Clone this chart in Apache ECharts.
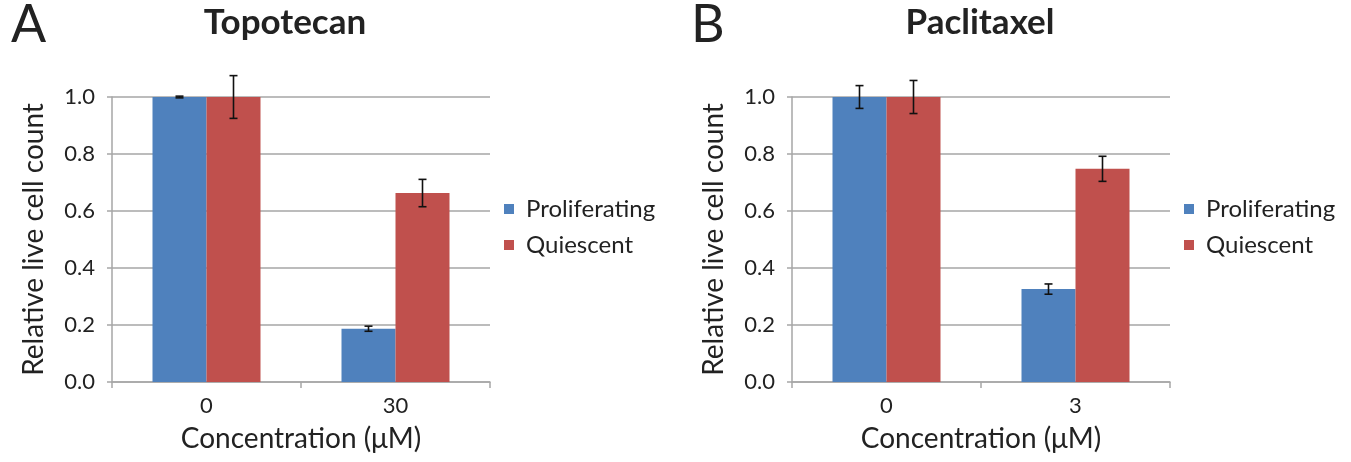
<!DOCTYPE html>
<html><head><meta charset="utf-8">
<script src="https://cdn.jsdelivr.net/npm/echarts@6/dist/echarts.min.js"></script>
<style>html,body{margin:0;padding:0;background:#fff}#c{width:1351px;height:462px}</style>
</head><body><div id="c"></div>
<script>
const FONT = 'Lato';
const seriesNames = ['Proliferating', 'Quiescent'];
const colors = ['#4F81BD', '#C0504D'];

const topoCategories = ['0', '30'];
const topoProlif = [1.0, 0.187];
const topoProlifErr = [0.003, 0.009];
const topoQuies = [1.0, 0.663];
const topoQuiesErr = [0.075, 0.048];

const pacliCategories = ['0', '3'];
const pacliProlif = [1.0, 0.326];
const pacliProlifErr = [0.04, 0.018];
const pacliQuies = [1.0, 0.748];
const pacliQuiesErr = [0.058, 0.044];

const yTicks = [0, 0.2, 0.4, 0.6, 0.8, 1.0];

const chart = echarts.init(document.getElementById('c'));
const gray = '#a6a6a6';
const BW = 54;

function errSeries(gi, vals, errs, shift) {
  return {
    type: 'custom', xAxisIndex: gi, yAxisIndex: gi, clip: false, silent: true, z: 5,
    data: vals.map((v, i) => [i, v, errs[i]]),
    encode: { x: 0, y: 1 },
    renderItem: function (params, api) {
      const i = api.value(0), v = api.value(1), e = api.value(2);
      const top = api.coord([i, v + e]);
      const bot = api.coord([i, v - e]);
      const x = top[0] + shift;
      const cap = 4;
      const st = { stroke: '#111', lineWidth: 1.6 };
      return { type: 'group', children: [
        { type: 'line', shape: { x1: x, y1: top[1], x2: x, y2: bot[1] }, style: st },
        { type: 'line', shape: { x1: x - cap, y1: top[1], x2: x + cap, y2: top[1] }, style: st },
        { type: 'line', shape: { x1: x - cap, y1: bot[1], x2: x + cap, y2: bot[1] }, style: st }
      ]};
    }
  };
}

function xAxis(gi, cats) {
  return {
    type: 'category', gridIndex: gi, data: cats,
    axisLine: { lineStyle: { color: gray, width: 1.5 } },
    axisTick: { show: true, length: 6, lineStyle: { color: gray, width: 1.5 } },
    axisLabel: { color: '#222', fontSize: 22, fontFamily: FONT, margin: 13 },
    name: 'Concentration (\u03bcM)', nameLocation: 'middle', nameGap: 43,
    nameTextStyle: { color: '#222', fontSize: 28, fontFamily: FONT }
  };
}
function yAxis(gi) {
  return {
    type: 'value', gridIndex: gi, min: 0, max: 1, interval: 0.2,
    axisLine: { show: true, lineStyle: { color: gray, width: 1.5 } },
    axisTick: { show: true, length: 5, lineStyle: { color: gray, width: 1.5 } },
    splitLine: { lineStyle: { color: gray, width: 1.5 } },
    axisLabel: { color: '#222', fontSize: 22, fontFamily: FONT, margin: 17,
      formatter: v => yTicks.indexOf(Math.round(v * 10) / 10) >= 0 ? v.toFixed(1) : '' },
    name: 'Relative live cell count', nameLocation: 'middle', nameGap: 64,
    nameTextStyle: { color: '#222', fontSize: 28, fontFamily: FONT }
  };
}
function bar(gi, name, vals, color) {
  return { type: 'bar', name: name, xAxisIndex: gi, yAxisIndex: gi, data: vals,
    barWidth: BW, barGap: '0%', itemStyle: { color: color } };
}
function legend(left) {
  return { left: left, top: 191, orient: 'vertical', icon: 'rect', itemWidth: 10, itemHeight: 10,
    itemGap: 10, data: seriesNames,
    textStyle: { color: '#222', fontSize: 24, fontFamily: FONT, lineHeight: 26, padding: [0, 0, 0, 7] } };
}

chart.setOption({
  animation: false,
  textStyle: { fontFamily: FONT },
  title: [
    { text: 'A', left: 6, top: -6, textStyle: { fontSize: 52, fontWeight: 'normal', color: '#222', fontFamily: FONT } },
    { text: 'Topotecan', left: 280, top: 0, textAlign: 'center', textStyle: { fontSize: 35, fontWeight: 'bold', color: '#222', fontFamily: FONT } },
    { text: 'B', left: 686, top: -6, textStyle: { fontSize: 52, fontWeight: 'normal', color: '#222', fontFamily: FONT } },
    { text: 'Paclitaxel', left: 975, top: 0, textAlign: 'center', textStyle: { fontSize: 35, fontWeight: 'bold', color: '#222', fontFamily: FONT } }
  ],
  legend: [legend(499), legend(1179)],
  grid: [
    { left: 112, top: 97, width: 378, height: 285 },
    { left: 792, top: 97, width: 378, height: 285 }
  ],
  xAxis: [xAxis(0, topoCategories), xAxis(1, pacliCategories)],
  yAxis: [yAxis(0), yAxis(1)],
  series: [
    bar(0, seriesNames[0], topoProlif, colors[0]),
    bar(0, seriesNames[1], topoQuies, colors[1]),
    bar(1, seriesNames[0], pacliProlif, colors[0]),
    bar(1, seriesNames[1], pacliQuies, colors[1]),
    errSeries(0, topoProlif, topoProlifErr, -BW / 2),
    errSeries(0, topoQuies, topoQuiesErr, BW / 2),
    errSeries(1, pacliProlif, pacliProlifErr, -BW / 2),
    errSeries(1, pacliQuies, pacliQuiesErr, BW / 2)
  ]
});
</script></body></html>
